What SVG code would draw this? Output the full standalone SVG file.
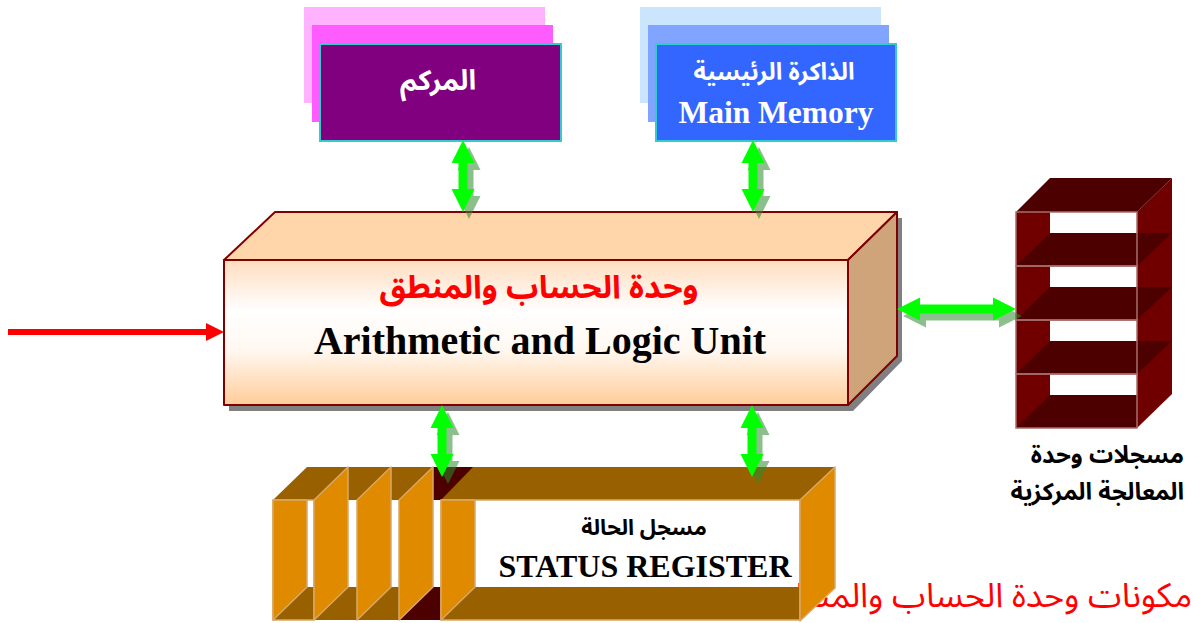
<svg xmlns="http://www.w3.org/2000/svg" xmlns:xlink="http://www.w3.org/1999/xlink" width="1193" height="623" viewBox="0 0 1193 623">
  <style>
    .ar { font-family: "Noto Sans Arabic", "Noto Naskh Arabic", "DejaVu Sans", "Liberation Sans", sans-serif; }
    .en { font-family: "Liberation Serif", "Times New Roman", serif; font-weight: bold; }
    .b { font-weight: bold; }
    .card { stroke: #33CCCC; stroke-width: 2; }
    .alu { stroke: #800000; stroke-width: 2; stroke-linejoin: round; }
    .reg-edge { stroke: #A86C6C; stroke-width: 1.5; }
    .st-edge { stroke: #D8A866; stroke-width: 1.5; stroke-linejoin: round; }
    .arrow { fill: #00FF00; }
    .arrow-shadow { fill: #2E8B2E; opacity: 0.55; }
  </style>
  <defs>
    <linearGradient id="aluFront" x1="0" y1="0" x2="0" y2="1">
      <stop offset="0" stop-color="#FFDDBF"/>
      <stop offset="0.35" stop-color="#FFFFFF"/>
      <stop offset="0.62" stop-color="#FFF8F1"/>
      <stop offset="1" stop-color="#FFCC99"/>
    </linearGradient>
    <!-- double-headed block arrows, tip at origin -->
    <path id="dblV" d="M0,0 L11.5,23 L4.5,23 L4.5,49 L11.5,49 L0,72 L-11.5,49 L-4.5,49 L-4.5,23 L-11.5,23 Z"/>
    <path id="dblH" d="M0,0 L23,-11.5 L23,-4.5 L96,-4.5 L96,-11.5 L119,0 L96,11.5 L96,4.5 L23,4.5 L23,11.5 Z"/>
  </defs>

  <rect width="1193" height="623" fill="#FFFFFF"/>

  <!-- caption, partly covered by the status register -->
  <text class="ar" x="1192" y="607" font-size="34" fill="#FF0000" text-anchor="end">مكونات وحدة الحساب والمنطق</text>

  <!-- accumulator card stack -->
  <g id="accumulator">
    <rect x="304" y="7" width="241" height="96" fill="#FFB3FF"/>
    <rect x="312" y="25" width="241" height="97" fill="#FF5CFF"/>
    <rect class="card" x="320" y="44" width="241" height="97" fill="#800080"/>
    <text class="ar b" x="438" y="90" font-size="28" fill="#FFFFFF" text-anchor="middle">المركم</text>
  </g>

  <!-- main memory card stack -->
  <g id="main-memory">
    <rect x="640" y="7" width="241" height="96" fill="#CCE5FF"/>
    <rect x="648" y="25" width="241" height="97" fill="#80A4FF"/>
    <rect class="card" x="656" y="44" width="240" height="97" fill="#3366FF"/>
    <text class="ar b" x="774" y="80" font-size="24" fill="#FFFFFF" text-anchor="middle">الذاكرة الرئيسية</text>
    <text class="en" x="776" y="123" font-size="31.5" fill="#FFFFFF" text-anchor="middle">Main Memory</text>
  </g>

  <!-- arithmetic and logic unit block -->
  <g id="alu">
    <polygon points="229,266 280,218 902,218 902,361 853,411 229,411" fill="#808080"/>
    <polygon class="alu" points="224,260 275,212 897,212 848,260" fill="#FFD5AA"/>
    <polygon class="alu" points="848,260 897,212 897,356 848,405" fill="#CFA47A"/>
    <rect class="alu" x="224" y="260" width="624" height="145" fill="url(#aluFront)"/>
    <text class="ar b" x="539" y="298" font-size="32" fill="#FF0000" text-anchor="middle">وحدة الحساب والمنطق</text>
    <text class="en" x="540" y="354" font-size="40" fill="#000000" text-anchor="middle">Arithmetic and Logic Unit</text>
  </g>

  <!-- CPU register shelf -->
  <g id="cpu-registers">
    <polygon points="1137,212 1172,178 1172,394 1137,428" fill="#700000"/>
    <polygon points="1016,212 1050,178 1172,178 1137,212" fill="#4D0000"/>
    <rect x="1016" y="212" width="121" height="216" fill="#700000"/>
    <rect x="1050" y="212" width="87" height="21" fill="#FFFFFF"/>
    <rect x="1050" y="266" width="87" height="21" fill="#FFFFFF"/>
    <rect x="1050" y="320" width="87" height="21" fill="#FFFFFF"/>
    <rect x="1050" y="374" width="87" height="21" fill="#FFFFFF"/>
    <polygon points="1016,266 1050,233 1172,233 1137,266" fill="#4D0000"/>
    <polygon points="1016,320 1050,287 1172,287 1137,320" fill="#4D0000"/>
    <polygon points="1016,374 1050,341 1172,341 1137,374" fill="#4D0000"/>
    <polygon points="1016,428 1050,395 1137,395 1137,428" fill="#4D0000"/>
    <g class="reg-edge" fill="none">
      <rect x="1016" y="212" width="121" height="54"/>
      <rect x="1016" y="266" width="121" height="54"/>
      <rect x="1016" y="320" width="121" height="54"/>
      <rect x="1016" y="374" width="121" height="54"/>
    </g>
    <text class="ar b" x="1184" y="463" font-size="24" fill="#000000" text-anchor="end">مسجلات وحدة</text>
    <text class="ar b" x="1184" y="500" font-size="24" fill="#000000" text-anchor="end">المعالجة المركزية</text>
  </g>

  <!-- status register -->
  <g id="status-register">
    <polygon points="273,500 307,467 835,467 800,500" fill="#996000"/>
    <polygon points="433,467 473,467 441,500 433,500" fill="#4D0000"/>
    <polygon points="273,620 307,587 800,587 800,620" fill="#996000"/>
    <polygon points="400,620 433,587 441,587 441,620" fill="#4D0000"/>
    <rect class="st-edge" x="273" y="500" width="41" height="120" fill="none"/>
    <polygon class="st-edge" points="273,500 307,500 307,587 273,620" fill="#E08A00"/>
    <polygon class="st-edge" points="314,500 348,467 348,587 314,620" fill="#E08A00"/>
    <polygon class="st-edge" points="357,500 391,467 391,587 357,620" fill="#E08A00"/>
    <polygon class="st-edge" points="399,500 433,467 433,587 399,620" fill="#E08A00"/>
    <rect class="st-edge" x="441" y="500" width="359" height="120" fill="none"/>
    <polygon class="st-edge" points="441,500 475,500 475,587 441,620" fill="#E08A00"/>
    <polygon class="st-edge" points="800,500 835,467 835,588 800,621" fill="#E08A00"/>
    <text class="ar b" x="644" y="535" font-size="22" fill="#000000" text-anchor="middle">مسجل الحالة</text>
    <text class="en" x="645" y="577" font-size="32" fill="#000000" text-anchor="middle">STATUS REGISTER</text>
  </g>

  <!-- connectors -->
  <g id="connectors">
    <line x1="8" y1="332" x2="208" y2="332" stroke="#FF0000" stroke-width="6"/>
    <polygon points="206,323 224,332 206,341" fill="#FF0000"/>

    <use xlink:href="#dblV" class="arrow-shadow" transform="translate(469,147)"/>
    <use xlink:href="#dblV" class="arrow" transform="translate(463,140)"/>

    <use xlink:href="#dblV" class="arrow-shadow" transform="translate(759,147)"/>
    <use xlink:href="#dblV" class="arrow" transform="translate(753,140)"/>

    <use xlink:href="#dblV" class="arrow-shadow" transform="translate(448,412)"/>
    <use xlink:href="#dblV" class="arrow" transform="translate(442,405)"/>

    <use xlink:href="#dblV" class="arrow-shadow" transform="translate(758,412)"/>
    <use xlink:href="#dblV" class="arrow" transform="translate(752,405)"/>

    <use xlink:href="#dblH" class="arrow-shadow" transform="translate(903,316)"/>
    <use xlink:href="#dblH" class="arrow" transform="translate(897,309)"/>
  </g>
</svg>
